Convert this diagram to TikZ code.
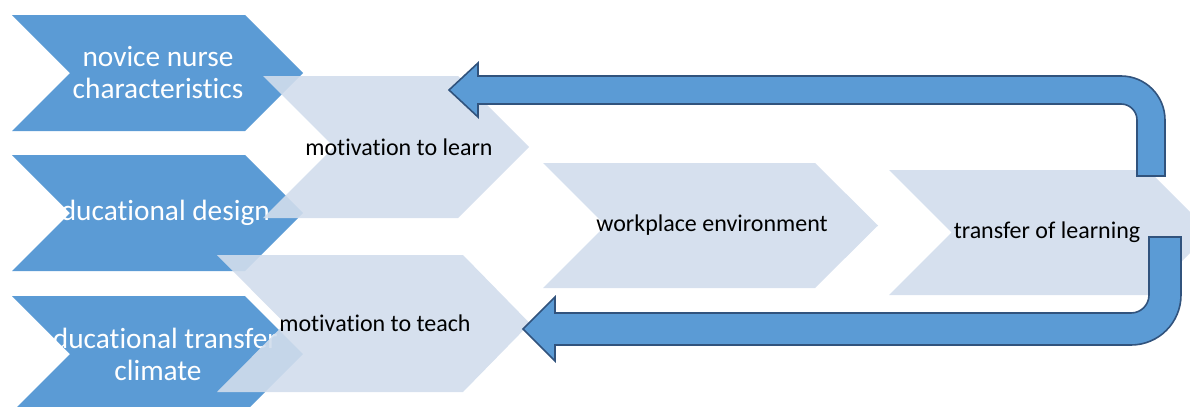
\documentclass[tikz,border=0pt]{standalone}
\usepackage{fontspec}
\setmainfont{Carlito}[RawFeature={-liga}]
\definecolor{chevdark}{RGB}{91,155,213}
\definecolor{chevlight}{RGB}{209,221,236}
\definecolor{loopline}{RGB}{49,83,125}
\begin{document}
\begin{tikzpicture}[x=0.75pt,y=-0.75pt,
    darkchev/.style={fill=chevdark},
    lightchev/.style={fill=chevlight,fill opacity=0.9},
    darklabel/.style={text=white,align=center,inner sep=0pt,font=\fontsize{22}{24}\selectfont},
    lightlabel/.style={text=black,align=center,inner sep=0pt,font=\fontsize{18}{20}\selectfont},
    loop/.style={fill=chevdark,draw=loopline,line width=1.2pt,line join=miter}]
    \useasboundingbox (0,0) rectangle (1190,407);
    \clip (0,0) rectangle (1190,407);
    % left column
    \fill[darkchev] (12,15) -- (245,15) -- (303,73) -- (245,131) -- (12,131) -- (70,73) -- cycle;
    \fill[darkchev] (12,155) -- (245,155) -- (303,213) -- (245,271) -- (12,271) -- (70,213) -- cycle;
    \fill[darkchev] (12,296) -- (245,296) -- (303,354) -- (245,412) -- (12,412) -- (70,354) -- cycle;
    \node[darklabel] (novice) at (158,73) {novice nurse\\characteristics};
    \node[darklabel] (design) at (158,213) {educational design};
    \node[darklabel] (climate) at (158,354) {educational transfer\\climate};
    % process row
    \fill[lightchev] (263,76) -- (458,76) -- (529,147) -- (458,218) -- (263,218) -- (334,147) -- cycle;
    \fill[lightchev] (217,255) -- (463,255) -- (530,323.5) -- (463,392) -- (217,392) -- (285,323.5) -- cycle;
    \fill[lightchev] (543,163) -- (815,163) -- (878,225.5) -- (815,288) -- (543,288) -- (605.5,225.5) -- cycle;
    \fill[lightchev] (889,170) -- (1148,170) -- (1210.5,232.5) -- (1148,295) -- (889,295) -- (951.5,232.5) -- cycle;
    \node[lightlabel] (learn) at (399,147) {motivation to learn};
    \node[lightlabel] (teach) at (375,323.5) {motivation to teach};
    \node[lightlabel] (work) at (712,225.5) {workplace environment};
    \node[lightlabel] (transfer) at (1047,232.5) {transfer of learning};
    % feedback arrows
    \draw[loop] (1137,176) -- (1137,120) arc[start angle=0,end angle=-90,radius=16] -- (478,104) -- (478,117) -- (449,90)
        -- (478,63) -- (478,76) -- (1121,76) arc[start angle=-90,end angle=0,radius=44] -- (1165,176) -- cycle;
    \draw[loop] (1149,237) -- (1149,295) arc[start angle=0,end angle=90,radius=18] -- (555,313) -- (555,297) -- (523,329)
        -- (555,361) -- (555,345) -- (1131,345) arc[start angle=90,end angle=0,radius=50] -- (1181,237) -- cycle;
\end{tikzpicture}
\end{document}
